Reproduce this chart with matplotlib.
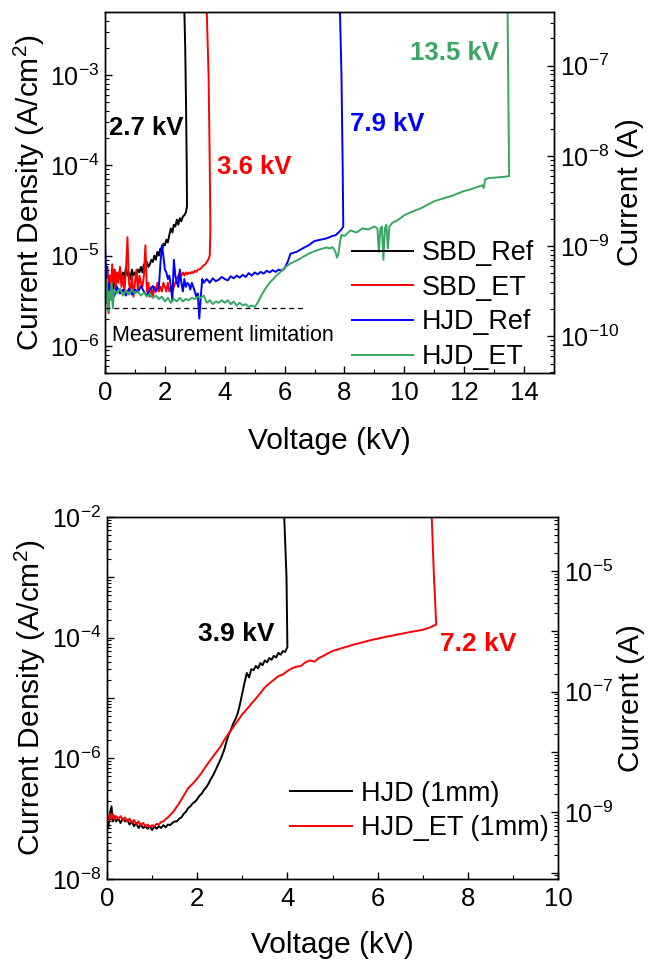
import numpy as np
import matplotlib
matplotlib.use('Agg')
import matplotlib.pyplot as plt
from matplotlib.ticker import LogLocator, FuncFormatter, NullFormatter, MultipleLocator

# ---------------- data: top panel (current density, A/cm^2, values given in uA/cm^2) ----------------
sbd_ref_v = [0.00, 0.04, 0.08, 0.12, 0.16, 0.20, 0.24, 0.28, 0.32, 0.36, 0.40,
             0.45, 0.50, 0.55, 0.60, 0.65, 0.70, 0.75, 0.80, 0.85, 0.90,
             0.95, 1.00, 1.05, 1.10, 1.15, 1.20, 1.25, 1.30, 1.35, 1.40,
             1.45, 1.50, 1.55, 1.60, 1.65, 1.70, 1.75, 1.80, 1.85, 1.90,
             1.95, 2.00, 2.05, 2.10, 2.15, 2.20, 2.25, 2.30, 2.35, 2.40,
             2.45, 2.50, 2.55, 2.60, 2.65, 2.70,
             2.74, 2.73, 2.71, 2.68, 2.63]
sbd_ref_j_uA = [6.5, 4.0, 7.5, 3.0, 6.0, 4.5, 7.0, 4.0, 6.5, 5.0, 6.0,
                5.5, 7.0, 5.0, 6.5, 5.5, 7.5, 6.0, 6.5, 5.5, 7.0,
                6.0, 6.5, 6.0, 7.0, 6.5, 7.5, 6.5, 8.0, 7.0, 8.5,
                7.5, 8.0, 9.0, 8.5, 10.0, 9.0, 11.0, 10.0, 12.0, 11.0,
                13.5, 13.0, 15.0, 14.0, 17.0, 20.0, 18.0, 22.0, 21.0, 25.0,
                22.0, 26.0, 24.0, 27.0, 28.0, 30.0,
                35.0, 100.0, 400.0, 2000.0, 10000.0]

sbd_et_v = [0.00, 0.04, 0.08, 0.12, 0.16, 0.20, 0.24, 0.28, 0.32, 0.36, 0.40,
            0.45, 0.50, 0.55, 0.60, 0.65, 0.70, 0.75, 0.80, 0.85, 0.90,
            0.95, 1.00, 1.05, 1.10, 1.15, 1.20, 1.25, 1.30, 1.35, 1.40,
            1.45, 1.50, 1.55, 1.60, 1.65, 1.70, 1.75, 1.80, 1.85, 1.90,
            1.95, 2.00, 2.05, 2.10, 2.15, 2.20, 2.25, 2.30, 2.35, 2.40,
            2.45, 2.50, 2.55, 2.60, 2.65, 2.70, 2.75, 2.80, 2.85, 2.90,
            2.95, 3.00, 3.05, 3.10, 3.15, 3.20, 3.25, 3.30, 3.35, 3.40,
            3.45, 3.50,
            3.52, 3.50, 3.46, 3.40, 3.35]
sbd_et_j_uA = [5.0, 3.0, 7.0, 2.3, 6.0, 4.0, 8.0, 5.0, 7.0, 4.0, 6.5,
               5.0, 7.5, 4.5, 6.0, 4.0, 7.0, 16.0, 5.0, 4.0, 6.0,
               3.5, 5.0, 7.0, 4.0, 6.0, 5.0, 4.5, 6.0, 13.0, 4.0,
               5.0, 3.5, 4.5, 3.5, 4.5, 4.0, 5.0, 4.0, 4.5, 4.0,
               5.0, 4.5, 4.0, 5.0, 4.0, 4.5, 4.0, 4.5, 5.0, 5.5,
               6.0, 6.5, 6.0, 6.5, 6.0, 6.5, 6.2, 6.5, 6.3, 6.6,
               6.4, 6.8, 6.6, 7.0, 7.0, 7.2, 7.5, 7.8, 8.0, 8.5,
               9.0, 10.0,
               20.0, 100.0, 1000.0, 5000.0, 10000.0]

hjd_ref_v = [0.00, 0.02, 0.05, 0.08, 0.12, 0.16, 0.20,
             0.30, 0.40, 0.50, 0.60, 0.70, 0.80, 0.90, 1.00, 1.10, 1.20,
             1.30, 1.40, 1.50, 1.60, 1.70, 1.80,
             1.85, 1.90, 1.95, 2.00, 2.05, 2.10, 2.15, 2.20, 2.25, 2.30,
             2.35, 2.40, 2.45, 2.50, 2.55, 2.60, 2.65, 2.70, 2.75, 2.80,
             2.85, 2.90, 2.95, 3.00, 3.05, 3.10, 3.15, 3.20, 3.25, 3.30,
             3.40, 3.50, 3.60, 3.70, 3.80, 3.90, 4.00, 4.10, 4.20, 4.30,
             4.40, 4.50, 4.60, 4.70, 4.80, 4.90, 5.00, 5.10, 5.20, 5.30,
             5.40, 5.50, 5.60, 5.70, 5.80, 5.90, 6.00, 6.10, 6.20,
             6.40, 6.60, 6.80, 7.00, 7.20, 7.40, 7.60,
             7.70, 7.80, 7.90, 7.96,
             7.94, 7.90, 7.85, 7.80]
hjd_ref_j_uA = [15.0, 9.0, 5.0, 3.2, 5.0, 4.0, 4.5,
                3.5, 4.5, 3.8, 4.2, 3.6, 4.3, 3.7, 4.2, 3.9, 4.6,
                4.0, 3.6, 4.2, 4.6, 4.0, 4.5,
                8.0, 13.0, 10.0, 7.0, 6.5, 5.5, 6.0, 4.5, 3.2, 9.0,
                6.0, 5.0, 4.5, 7.0, 5.0, 4.0, 5.5, 4.5, 5.0, 4.8,
                4.2, 5.0, 4.5, 4.0, 3.5, 3.8, 2.0, 3.5, 5.5, 5.0,
                5.5, 5.0, 5.6, 5.2, 5.4, 5.8, 5.5, 5.3, 5.9, 5.6,
                6.0, 5.7, 6.1, 5.8, 6.4, 6.0, 6.5, 6.2, 6.6, 6.3,
                6.8, 6.5, 6.9, 6.6, 7.0, 6.8, 7.2, 8.5, 10.5,
                11.0, 12.0, 13.0, 14.5, 15.0, 15.5, 16.5,
                16.8, 18.0, 19.5, 21.0,
                100.0, 1000.0, 5000.0, 10000.0]

hjd_et_v = [0.00, 0.03, 0.06, 0.10, 0.14, 0.18, 0.22, 0.26, 0.30,
            0.4, 0.5, 0.6, 0.7, 0.8, 0.9, 1.0, 1.1, 1.2, 1.3,
            1.4, 1.5, 1.6, 1.7, 1.8, 1.9, 2.0, 2.1, 2.2, 2.3,
            2.4, 2.5, 2.6, 2.7, 2.8, 2.9, 3.0, 3.1, 3.2, 3.3,
            3.4, 3.5, 3.6, 3.7, 3.8, 3.9, 4.0, 4.1, 4.2, 4.3,
            4.4, 4.5, 4.6, 4.7, 4.8, 4.9, 5.0,
            5.1, 5.2, 5.3, 5.4, 5.5, 5.6, 5.7, 5.8, 5.9, 6.0,
            6.1, 6.2, 6.3, 6.4, 6.5, 6.6, 6.7, 6.8, 6.9, 7.0,
            7.1, 7.2, 7.3, 7.4, 7.5, 7.6, 7.7,
            7.75, 7.80, 7.85, 7.90,
            8.00, 8.20, 8.40, 8.60, 8.80,
            9.00, 9.10,
            9.15, 9.20, 9.25, 9.30, 9.35, 9.40, 9.45, 9.50, 9.55, 9.60,
            9.80, 10.00, 10.20, 10.40, 10.60, 10.80, 11.00, 11.20, 11.40,
            11.60, 11.80, 12.00, 12.20, 12.40, 12.60,
            12.65, 12.70, 12.80,
            13.00, 13.20, 13.40, 13.50,
            13.49, 13.47, 13.45, 13.43]
hjd_et_j_uA = [4.5, 3.0, 5.5, 2.4, 4.0, 3.2, 5.0, 2.6, 4.2,
               3.8, 4.3, 3.6, 4.1, 3.7, 4.2, 3.8, 4.0, 3.6, 3.9,
               3.5, 3.8, 3.4, 3.6, 3.3, 3.5, 3.1, 3.4, 3.0, 3.3,
               3.1, 3.4, 3.1, 3.3, 3.2, 3.4, 3.3, 3.5, 3.4, 3.6,
               3.0, 3.2, 2.9, 3.1, 3.0, 3.2, 3.0, 3.2, 2.9, 3.1,
               2.8, 3.0, 2.8, 2.9, 2.7, 2.8, 2.7,
               3.0, 3.5, 4.0, 4.5, 5.0, 5.4, 5.9, 6.3, 6.8, 7.3,
               7.8, 8.2, 8.5, 8.8, 9.2, 9.6, 10.0, 10.5, 10.8, 11.2,
               11.5, 11.8, 12.0, 12.3, 12.0, 12.4, 11.0,
               9.5, 10.5, 14.0, 17.0,
               16.5, 19.0, 18.0, 20.0, 19.5,
               21.0, 20.0,
               11.0, 20.0, 21.0, 9.0, 20.0, 22.0, 12.0, 21.0, 22.0, 23.0,
               25.0, 28.0, 30.0, 32.0, 34.0, 37.0, 40.0, 42.0, 44.0,
               46.0, 49.0, 52.0, 54.0, 57.0, 60.0,
               56.0, 70.0, 72.0,
               73.0, 74.0, 75.0, 76.0,
               200.0, 1000.0, 5000.0, 10000.0]

meas_limit_j = 2.6e-6
meas_limit_v = [0.0, 6.7]

top_labels = ['SBD_Ref', 'SBD_ET', 'HJD_Ref', 'HJD_ET']
top_bv_text = ['2.7 kV', '3.6 kV', '7.9 kV', '13.5 kV']

# ---------------- data: bottom panel (values in 1e-8 A/cm^2) ----------------
hjd1_v = [0.00, 0.03, 0.06, 0.10, 0.13, 0.17, 0.20,
          0.25, 0.30, 0.35, 0.40, 0.45, 0.50, 0.55, 0.60, 0.65, 0.70,
          0.75, 0.80, 0.85, 0.90, 0.95, 1.00, 1.05, 1.10, 1.15, 1.20,
          1.25, 1.30, 1.35, 1.40, 1.45, 1.50,
          1.55, 1.60, 1.65, 1.70, 1.75, 1.80, 1.85, 1.90, 1.95, 2.00,
          2.05, 2.10, 2.15, 2.20, 2.25, 2.30, 2.35, 2.40, 2.45, 2.50,
          2.55, 2.60, 2.65, 2.70, 2.75, 2.80, 2.85, 2.90, 2.95, 3.00,
          3.05, 3.10, 3.15, 3.20, 3.25, 3.30, 3.35, 3.40, 3.45, 3.50,
          3.55, 3.60, 3.65, 3.70, 3.75, 3.80, 3.85, 3.90, 3.95,
          4.00, 3.98, 3.93, 3.89]
hjd1_j_e8 = [10.0, 7.0, 12.0, 16.0, 9.0, 11.0, 9.0,
             10.0, 8.5, 10.0, 9.0, 9.5, 8.0, 9.0, 7.5, 8.5, 7.0,
             8.0, 7.0, 7.5, 6.8, 7.5, 6.5, 7.5, 6.8, 7.5, 7.0,
             7.8, 7.2, 8.0, 7.8, 8.5, 9.0,
             9.0, 10.0, 10.5, 12.0, 13.0, 15.0, 16.0, 18.0, 19.0, 21.0,
             24.0, 26.0, 30.0, 33.0, 38.0, 45.0, 52.0, 62.0, 75.0, 90.0,
             110.0, 140.0, 190.0, 250.0, 300.0, 380.0, 450.0, 560.0, 800.0, 1200.0,
             1800.0, 2600.0, 2200.0, 3000.0, 2900.0, 3400.0, 3100.0, 3800.0, 3500.0, 4200.0,
             3900.0, 4600.0, 4300.0, 5000.0, 4700.0, 5600.0, 5200.0, 6000.0, 5800.0,
             7000.0, 1.0e5, 1.0e6, 2.0e6]

hjd1_et_v = [0.00, 0.03, 0.06, 0.10, 0.13, 0.17, 0.20,
             0.25, 0.30, 0.35, 0.40, 0.45, 0.50, 0.55, 0.60, 0.65, 0.70,
             0.75, 0.80, 0.85, 0.90, 0.95, 1.00, 1.05, 1.10, 1.15, 1.20,
             1.25, 1.30, 1.35, 1.40, 1.45, 1.50,
             1.6, 1.7, 1.8, 1.9, 2.0, 2.1, 2.2, 2.3, 2.4, 2.5,
             2.6, 2.7, 2.8, 2.9, 3.0, 3.1, 3.2, 3.3, 3.4, 3.5,
             3.6, 3.7, 3.8, 3.9, 4.0, 4.1, 4.2, 4.3, 4.4, 4.5,
             4.6, 4.7, 4.8, 4.9, 5.0, 5.1, 5.2, 5.3, 5.4, 5.5,
             5.6, 5.7, 5.8, 5.9, 6.0, 6.1, 6.2, 6.3, 6.4, 6.5,
             6.6, 6.7, 6.8, 6.9, 7.0, 7.1, 7.2, 7.3,
             7.25, 7.20, 7.16]
hjd1_et_j_e8 = [11.0, 9.0, 12.0, 10.0, 12.0, 9.5, 11.0,
                10.0, 11.0, 9.5, 10.5, 9.0, 10.0, 8.5, 9.5, 8.0, 9.0,
                7.8, 8.5, 7.5, 8.0, 7.2, 7.8, 7.5, 8.2, 8.0, 8.8,
                9.0, 9.8, 10.5, 11.5, 12.5, 14.0,
                18.0, 24.0, 32.0, 38.0, 46.0, 58.0, 75.0, 95.0, 120.0, 150.0,
                200.0, 260.0, 330.0, 420.0, 540.0, 650.0, 800.0, 980.0, 1200.0, 1500.0,
                1750.0, 2000.0, 2300.0, 2450.0, 2800.0, 3100.0, 3300.0, 3400.0, 3900.0, 4200.0,
                4000.0, 4600.0, 5000.0, 5500.0, 6000.0, 6300.0, 6700.0, 7000.0, 7400.0, 7800.0,
                8100.0, 8500.0, 8900.0, 9300.0, 9600.0, 10000.0, 10400.0, 10700.0, 11100.0, 11500.0,
                11900.0, 12300.0, 12700.0, 13100.0, 13500.0, 14200.0, 15200.0, 16500.0,
                1.0e5, 1.0e6, 2.0e6]

bottom_labels = ['HJD (1mm)', 'HJD_ET (1mm)']
bottom_bv_text = ['3.9 kV', '7.2 kV']

# device areas (cm^2) linking current density to current
area_top = np.pi * 0.005 ** 2      # 100 um diameter
area_bottom = np.pi * 0.05 ** 2    # 1 mm diameter

# ---------------- style ----------------
plt.rcParams['font.family'] = ['Liberation Sans', 'DejaVu Sans']
plt.rcParams['mathtext.fontset'] = 'custom'
plt.rcParams['mathtext.rm'] = 'Liberation Sans'
plt.rcParams['mathtext.it'] = 'Liberation Sans:italic'
plt.rcParams['mathtext.bf'] = 'Liberation Sans:bold'
plt.rcParams['mathtext.default'] = 'regular'
plt.rcParams['axes.linewidth'] = 1.0

BLACK = '#000000'
RED = '#ff0000'
BLUE = '#0000ff'
GREEN = '#38a662'
LW = 1.4
TICK_FS = 18.5
LABEL_FS = 21.5


def pow10_all(val, pos):
    e = int(round(np.log10(val)))
    return r'$10^{%d}$' % e


def pow10_even(val, pos):
    e = int(round(np.log10(val)))
    return r'$10^{%d}$' % e if e % 2 == 0 else ''


def pow10_odd(val, pos):
    e = int(round(np.log10(val)))
    return r'$10^{%d}$' % e if e % 2 != 0 else ''


def style_log_axis(ax):
    ax.set_yscale('log')
    ax.yaxis.set_major_locator(LogLocator(base=10, numticks=20))
    ax.yaxis.set_minor_locator(LogLocator(base=10, subs=np.arange(2, 10), numticks=20))
    ax.yaxis.set_minor_formatter(NullFormatter())
    ax.tick_params(axis='y', which='major', direction='in', length=5, width=1.0,
                   labelsize=TICK_FS - 0.5, pad=4)
    ax.tick_params(axis='y', which='minor', direction='in', length=3, width=0.8)


fig = plt.figure(figsize=(6.49, 9.6), dpi=100)

# ================= TOP PANEL =================
ax1 = fig.add_axes([105 / 649, 1 - 373 / 960, 449 / 649, 361 / 960])
series_top = [(sbd_ref_v, sbd_ref_j_uA, BLACK),
              (sbd_et_v, sbd_et_j_uA, RED),
              (hjd_ref_v, hjd_ref_j_uA, BLUE),
              (hjd_et_v, hjd_et_j_uA, GREEN)]
for (v, j, c), lab in zip(series_top, top_labels):
    ax1.plot(v, np.array(j) * 1e-6, color=c, lw=LW, label=lab)
ax1.plot(meas_limit_v, [meas_limit_j] * 2, color='black', lw=0.9, ls=(0, (4, 3)))

style_log_axis(ax1)
ax1.set_ylim(5e-7, 5e-3)
ax1.set_xlim(0, 15)
ax1.yaxis.set_major_formatter(FuncFormatter(pow10_all))
ax1.xaxis.set_major_locator(MultipleLocator(2))
ax1.xaxis.set_minor_locator(MultipleLocator(1))
ax1.tick_params(axis='x', which='major', direction='in', length=5, width=1.0,
                labelsize=TICK_FS, pad=6, top=False)
ax1.tick_params(axis='x', which='minor', direction='in', length=3, width=0.8, top=False)
ax1.tick_params(axis='y', which='both', right=False)
ax1.set_xlabel('Voltage (kV)', fontsize=LABEL_FS)
ax1.set_ylabel(r'Current Density (A/cm$^{2}$)', fontsize=LABEL_FS)
ax1.xaxis.set_label_coords(0.5, -0.15)
ax1.yaxis.set_label_coords(-0.13, 0.5)

ax1r = ax1.twinx()
style_log_axis(ax1r)
ax1r.set_ylim(5e-7 * area_top, 5e-3 * area_top)
ax1r.yaxis.set_major_formatter(FuncFormatter(pow10_all))
ax1r.set_ylabel('Current (A)', fontsize=LABEL_FS)
ax1r.yaxis.set_label_coords(1.138, 0.5)

ax1.text(0.13, 2.6e-4, top_bv_text[0], color=BLACK, fontsize=18.5, fontweight='bold',
         ha='left', va='center')
ax1.text(3.75, 9.5e-5, top_bv_text[1], color=RED, fontsize=18.5, fontweight='bold',
         ha='left', va='center')
ax1.text(8.19, 2.9e-4, top_bv_text[2], color=BLUE, fontsize=18.5, fontweight='bold',
         ha='left', va='center')
ax1.text(10.2, 1.75e-3, top_bv_text[3], color=GREEN, fontsize=18.5, fontweight='bold',
         ha='left', va='center')
ax1.text(0.23, 1.3e-6, 'Measurement limitation', color='black', fontsize=15.5,
         ha='left', va='center')

leg1 = ax1.legend(loc='center left', bbox_to_anchor=(0.55, 0.188), frameon=False,
                  fontsize=19.4, handlelength=2.27, handletextpad=0.33,
                  labelspacing=0.32, borderpad=0, borderaxespad=0)

# ================= BOTTOM PANEL =================
ax2 = fig.add_axes([107 / 649, 1 - 879 / 960, 451 / 649, 362 / 960])
series_bot = [(hjd1_v, hjd1_j_e8, BLACK), (hjd1_et_v, hjd1_et_j_e8, RED)]
for (v, j, c), lab in zip(series_bot, bottom_labels):
    ax2.plot(v, np.array(j) * 1e-8, color=c, lw=LW, label=lab)

style_log_axis(ax2)
ax2.set_ylim(1e-8, 1e-2)
ax2.set_xlim(0, 10)
ax2.yaxis.set_major_formatter(FuncFormatter(pow10_even))
ax2.xaxis.set_major_locator(MultipleLocator(2))
ax2.xaxis.set_minor_locator(MultipleLocator(1))
ax2.tick_params(axis='x', which='major', direction='in', length=5, width=1.0,
                labelsize=TICK_FS, pad=6, top=False)
ax2.tick_params(axis='x', which='minor', direction='in', length=3, width=0.8, top=False)
ax2.tick_params(axis='y', which='both', right=False)
ax2.set_xlabel('Voltage (kV)', fontsize=LABEL_FS)
ax2.set_ylabel(r'Current Density (A/cm$^{2}$)', fontsize=LABEL_FS)
ax2.xaxis.set_label_coords(0.5, -0.145)
ax2.yaxis.set_label_coords(-0.13, 0.5)

ax2r = ax2.twinx()
style_log_axis(ax2r)
ax2r.set_ylim(1e-8 * area_bottom, 1e-2 * area_bottom)
ax2r.yaxis.set_major_formatter(FuncFormatter(pow10_odd))
ax2r.set_ylabel('Current (A)', fontsize=LABEL_FS)
ax2r.yaxis.set_label_coords(1.13, 0.5)

ax2.text(2.02, 1.17e-4, bottom_bv_text[0], color=BLACK, fontsize=19, fontweight='bold',
         ha='left', va='center')
ax2.text(7.38, 7.9e-5, bottom_bv_text[1], color=RED, fontsize=19, fontweight='bold',
         ha='left', va='center')

leg2 = ax2.legend(loc='center left', bbox_to_anchor=(0.406, 0.188), frameon=False,
                  fontsize=19.5, handlelength=2.3, handletextpad=0.3,
                  labelspacing=0.32, borderpad=0, borderaxespad=0)

fig.savefig('out.png', dpi=100)
